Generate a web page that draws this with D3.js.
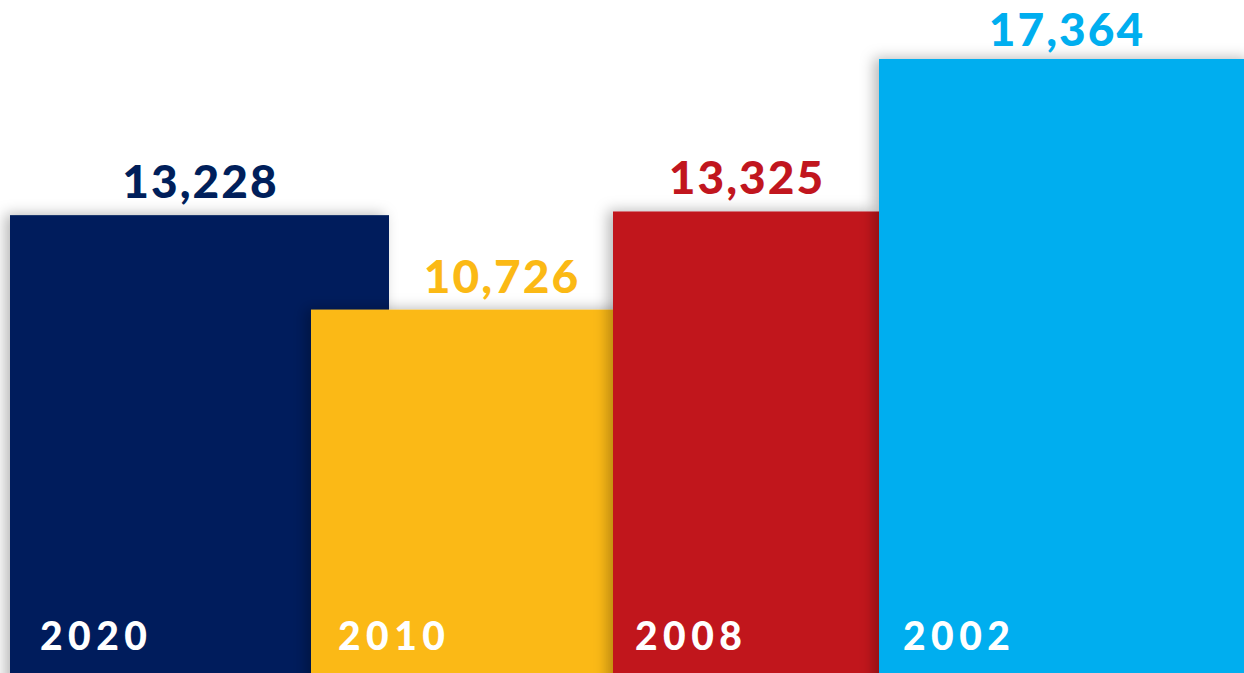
<!DOCTYPE html>
<html>
<head>
<meta charset="utf-8">
<script src="https://cdn.jsdelivr.net/npm/d3@7"></script>
<style>
  html, body { margin: 0; padding: 0; background: #fff; }
  svg { display: block; }
  .value { font-family: Lato, "Open Sans", sans-serif; font-weight: 900; }
  .year { font-family: Lato, "Open Sans", sans-serif; font-weight: 900; fill: #fff; }
</style>
</head>
<body>
<svg id="chart"></svg>
<script>
// Data
const years = ["2020", "2010", "2008", "2002"];
const counts = [13228, 10726, 13325, 17364];
const colors = ["#001f5b", "#fbb915", "#c1161e", "#00aeef"];

// Layout
const W = 1244, H = 673;
const barLefts = [10, 311, 613, 879];   // bars overlap: each one sits on top of the previous
const barWidths = [379, 380, 266, 374];
const yearOffsets = [30, 27, 22, 24];
const valueFont = 46;

const svg = d3.select("#chart").attr("width", W).attr("height", H);

const defs = svg.append("defs");
const f = defs.append("filter").attr("id", "shadow")
  .attr("x", "-20%").attr("y", "-20%").attr("width", "140%").attr("height", "140%");
f.append("feDropShadow")
  .attr("dx", -5).attr("dy", -1)
  .attr("stdDeviation", 7)
  .attr("flood-color", "#000").attr("flood-opacity", 0.28);

const x = d3.scaleOrdinal().domain(years).range(barLefts);
const w = d3.scaleOrdinal().domain(years).range(barWidths);
const y = d3.scaleLinear().domain([1100, 17364]).range([H, 59]);

const rows = years.map((yr, i) => ({ year: yr, value: counts[i], color: colors[i], i }));

const g = svg.selectAll("g.bar").data(rows).join("g").attr("class", "bar");

g.append("rect")
  .attr("x", d => x(d.year))
  .attr("y", d => y(d.value))
  .attr("width", d => w(d.year))
  .attr("height", d => H - y(d.value) + 20)
  .attr("fill", d => d.color)
  .attr("filter", "url(#shadow)");

// value labels sit just above each bar, kept inside the top edge
g.append("text")
  .attr("class", "value")
  .attr("x", d => x(d.year) + w(d.year) / 2 + 1)
  .attr("y", d => Math.max(y(d.value) - 17, Math.ceil(valueFont * 0.99)))
  .attr("text-anchor", "middle")
  .attr("font-size", valueFont)
  .attr("letter-spacing", 2)
  .attr("fill", d => d.color)
  .text(d => d3.format(",")(d.value));

g.append("text")
  .attr("class", "year")
  .attr("x", d => x(d.year) + yearOffsets[d.i])
  .attr("y", 650)
  .attr("font-size", 39)
  .attr("letter-spacing", 5.5)
  .text(d => d.year);
</script>
</body>
</html>
